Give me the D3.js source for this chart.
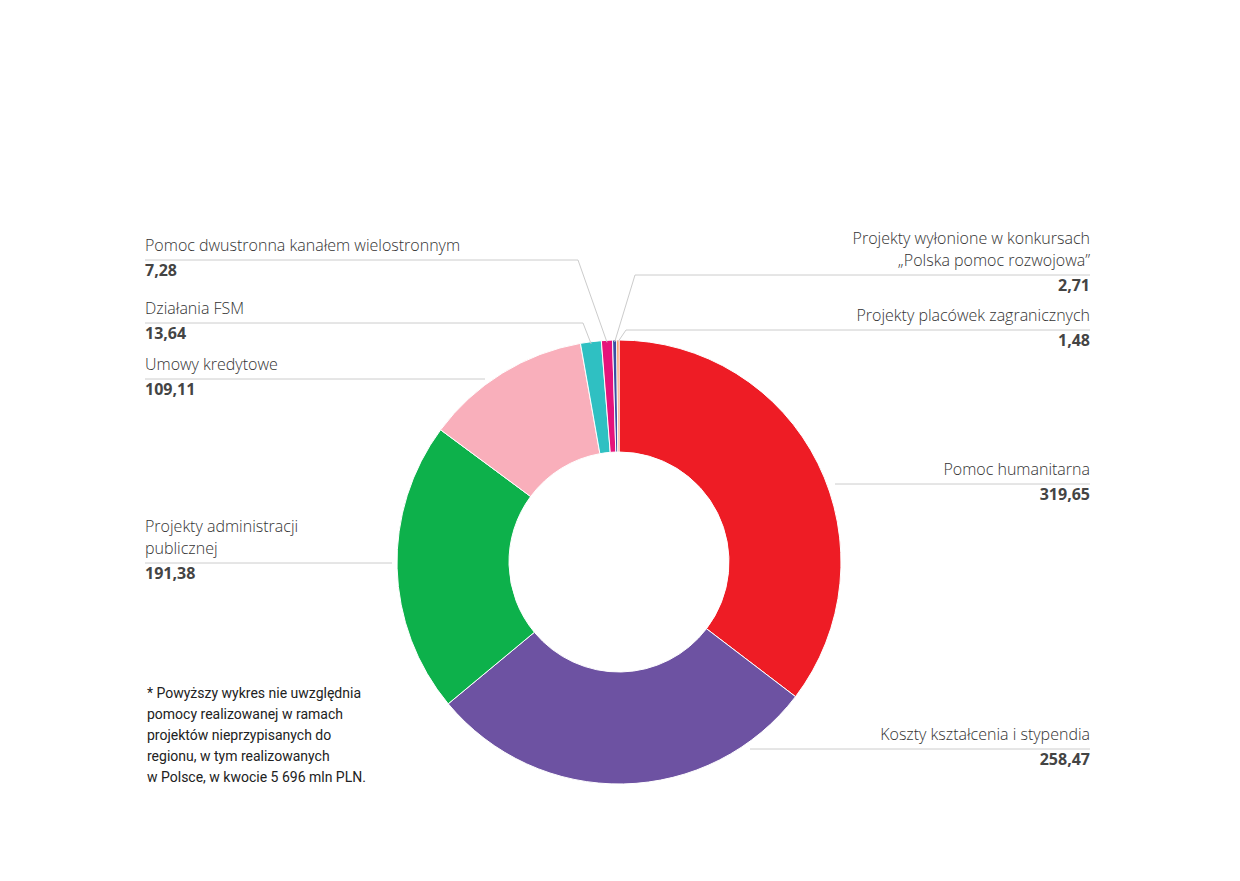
<!DOCTYPE html>
<meta charset="utf-8">
<style>
  body { margin: 0; background: #fff; }
  text { font-family: "Open Sans", sans-serif; fill: #333; }
  .name { font-size: 16px; font-weight: 300; }
  .val { font-size: 16px; font-weight: 700; fill: #444; }
  .note { font-family: "Liberation Sans Narrow", "Roboto", sans-serif; font-size: 14px; fill: #222; }
</style>
<svg width="1240" height="881"></svg>
<script src="https://d3js.org/d3.v7.min.js"></script>
<script>
  var names = [["Pomoc humanitarna"], ["Koszty kształcenia i stypendia"], ["Projekty administracji", "publicznej"],
    ["Umowy kredytowe"], ["Działania FSM"], ["Pomoc dwustronna kanałem wielostronnym"],
    ["Projekty wyłonione w konkursach", "„Polska pomoc rozwojowa”"], ["Projekty placówek zagranicznych"]];
  var values = [319.65, 258.47, 191.38, 109.11, 13.64, 7.28, 2.71, 1.48];
  var colors = ["#ee1c25", "#6d52a2", "#0db14b", "#f9afbb", "#2fc0c2", "#e6137b", "#3a4fa3", "#f4823c"];
  // label layout: side, y of the rule under the name, x of rule end near the chart
  var layout = [
    { side: "r", ly: 484, lx: 835 },
    { side: "r", ly: 749, lx: 750 },
    { side: "l", ly: 563, lx: 392 },
    { side: "l", ly: 379, lx: 485 },
    { side: "l", ly: 323, lx: 583 },
    { side: "l", ly: 260, lx: 578 },
    { side: "r", ly: 275, lx: 635 },
    { side: "r", ly: 330, lx: 626 }
  ];

  var svg = d3.select("svg");
  var cx = 619, cy = 562, R = 222, r0 = 110;
  var pie = d3.pie().sort(null).value(d => d)(values);
  var arc = d3.arc().innerRadius(r0).outerRadius(R);
  var g = svg.append("g").attr("transform", `translate(${cx},${cy})`);
  g.selectAll("path").data(pie).join("path")
    .attr("d", arc).attr("fill", (d, i) => colors[i])
    .attr("stroke", "#fff").attr("stroke-width", 1);

  var fmt = v => d3.format(".2f")(v).replace(".", ",");
  var L = 145, Rx = 1090;
  pie.forEach(function (d, i) {
    var lay = layout[i], right = lay.side === "r";
    var ly = lay.ly;
    var x0 = right ? Rx : L;
    var pts = [[x0, ly], [lay.lx, ly]];
    if (i >= 4) {
      var a = (d.startAngle + d.endAngle) / 2;
      pts.push([cx + Math.sin(a) * (R - 2), cy - Math.cos(a) * (R - 2)]);
    }
    svg.append("path").attr("d", d3.line()(pts)).attr("fill", "none").attr("stroke", "#ccc").attr("stroke-width", 1);
    var anchor = right ? "end" : "start";
    var n = names[i].length;
    names[i].forEach(function (s, k) {
      svg.append("text").attr("class", "name").attr("x", x0).attr("y", ly - 9 - (n - 1 - k) * 22)
        .attr("text-anchor", anchor).text(s);
    });
    svg.append("text").attr("class", "val").attr("x", x0).attr("y", ly + 16)
      .attr("text-anchor", anchor).text(fmt(values[i]));
  });

  var note = ["* Powyższy wykres nie uwzględnia", "pomocy realizowanej w ramach", "projektów nieprzypisanych do",
    "regionu, w tym realizowanych", "w Polsce, w kwocie 5 696 mln PLN."];
  svg.append("g").selectAll("text").data(note).join("text").attr("class", "note")
    .attr("x", 147).attr("y", (d, i) => 698 + i * 21).text(d => d);
</script>
